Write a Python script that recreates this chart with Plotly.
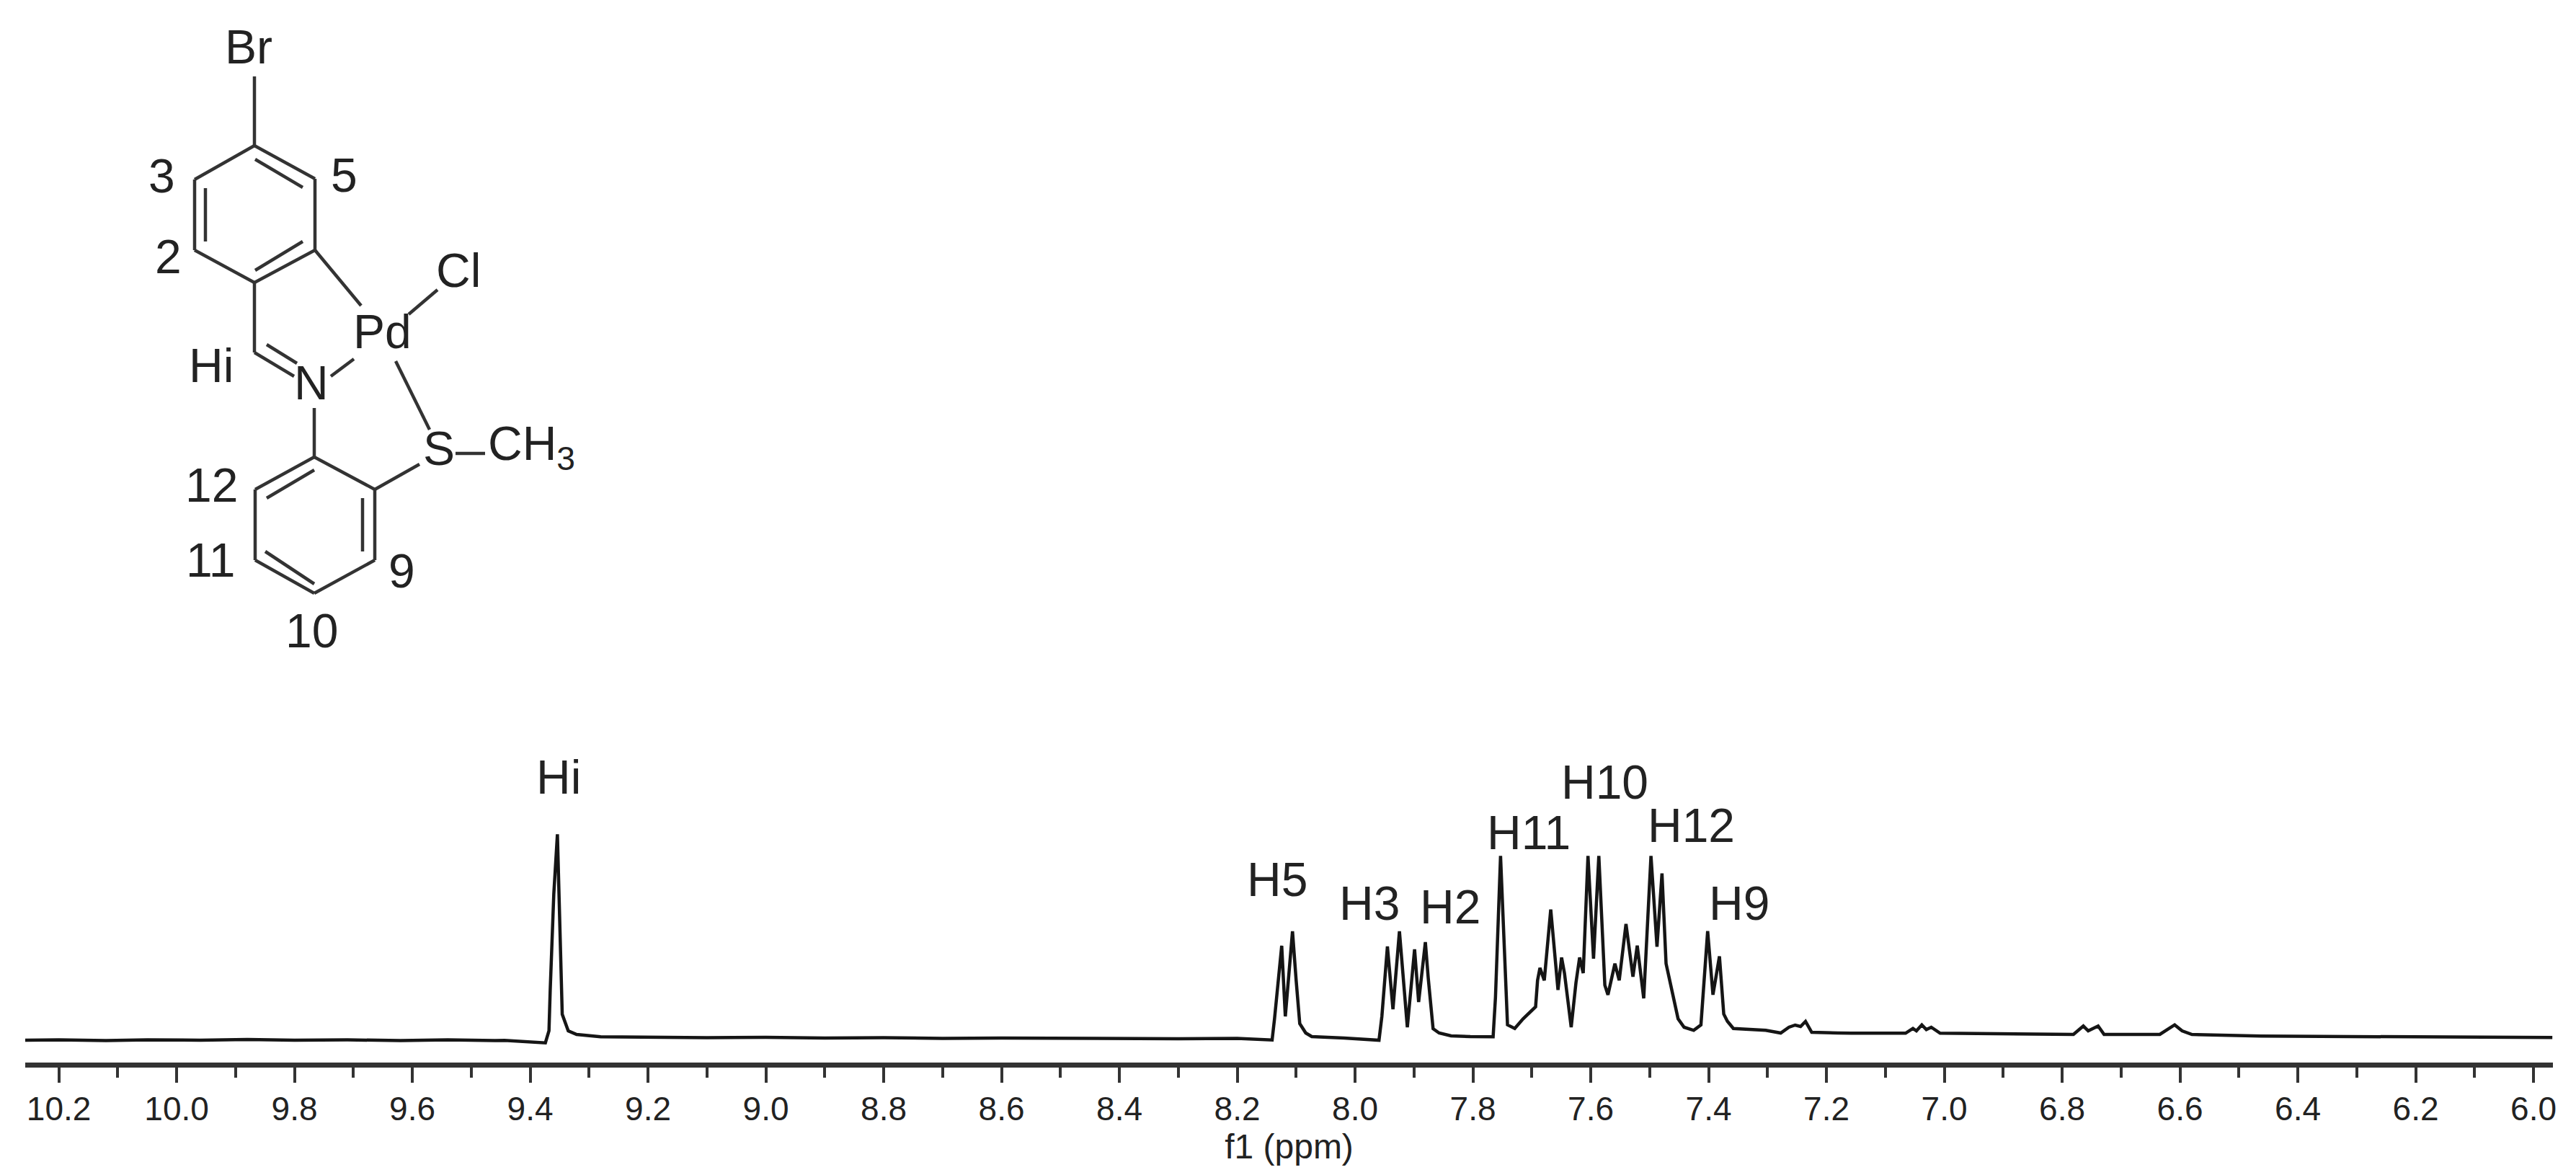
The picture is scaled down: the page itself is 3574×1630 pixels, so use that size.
"""
1H NMR spectrum of the Pd complex, with the structure drawn top left.
"""

import plotly.graph_objects as go

# Spectrum: chemical shift and height above baseline
ppm = [
    10.257, 10.20, 10.12, 10.05, 9.96, 9.88, 9.80, 9.71, 9.62, 9.54, 9.46, 9.4435,
    9.3742, 9.3681, 9.366, 9.3599, 9.3538, 9.3489, 9.3456, 9.3354, 9.3212, 9.2804,
    9.20, 9.10, 9.00, 8.90, 8.80, 8.70, 8.60, 8.50, 8.40, 8.30, 8.20, 8.1408,
    8.1367, 8.1245, 8.1184, 8.1062, 8.1000, 8.0939, 8.0837, 8.0735, 8.0185, 7.9594,
    7.9545, 7.9451, 7.9357, 7.9247, 7.9113, 7.8990, 7.8921, 7.8807, 7.8758, 7.8676,
    7.8574, 7.8370, 7.8044, 7.7657, 7.7617, 7.7531, 7.7466, 7.7413, 7.7290, 7.7148,
    7.6936, 7.6903, 7.6862, 7.6789, 7.6679, 7.6556, 7.6495, 7.6446, 7.6332, 7.6251,
    7.6189, 7.6128, 7.6047, 7.5953, 7.5863, 7.5761, 7.5708, 7.5590, 7.5517, 7.5402,
    7.5284, 7.5211, 7.5101, 7.5035, 7.4978, 7.4876, 7.4791, 7.4722, 7.4620, 7.4518,
    7.4416, 7.4253, 7.4130, 7.4069, 7.4016, 7.3926, 7.3816, 7.3743, 7.3681, 7.3580,
    7.3030, 7.2776, 7.2636, 7.2531, 7.2439, 7.2355, 7.2250, 7.1807, 7.1579, 7.0657,
    7.0532, 7.0473, 7.0381, 7.0305, 7.0221, 7.0071, 6.90, 6.7808, 6.7640, 6.7557,
    6.7389, 6.7288, 6.6342, 6.6216, 6.6090, 6.5964, 6.5797, 6.4624, 6.30, 6.1523,
    6.05, 5.968,
]
intensity = [
    -2, -1.5, -2.5, -1.5, -2, -1, -2, -1.5, -2.5, -1.5, -2.5, -2.3,
    -5.7, 11, 67.7, 201, 283.7, 134, 34, 11, 6, 2.7,
    2, 1.5, 2, 1, 1.5, 0.5, 1, 0.5, 1, 0, 0.5, -1.7,
    27.7, 129, 31, 149, 81, 21, 8, 3, 1, -2,
    31, 128, 41, 149, 16, 124, 51, 134, 84, 14,
    8, 4, 3, 2.7, 57.7, 253.7, 124.3, 19.3, 14.3, 27.7,
    44.3, 81, 98.3, 81, 179.3, 67.7, 112.7, 91, 16, 77.7,
    112.7, 91, 253.7, 111, 253.7, 74.3, 61, 104.3, 81, 159.3,
    86, 129.3, 56, 174.3, 253.7, 127.7, 229.3, 104.3, 67.7, 27.7,
    16, 11.7, 19.3, 91, 149.3, 61, 114.3, 34.3, 24.3, 14.3,
    11.7, 8, 16, 19, 17, 24, 9, 8, 7.7, 7.7,
    14.3, 11, 19.3, 12.7, 16, 7.7, 7, 6, 17.7, 11,
    17.7, 6, 6, 12.7, 19.3, 11, 6, 3.7, 3.2, 2.7,
    2.5, 1.7,
]

# Peak assignments
peak_labels = ["Hi", "H5", "H3", "H2", "H11", "H10", "H12", "H9"]
peak_ppm = [9.352, 8.132, 7.976, 7.839, 7.705, 7.576, 7.430, 7.348]
peak_height = [363, 221, 188, 183, 286, 356, 296, 188]

# Tick labels on the shift axis
tick_ppm = [10.2, 10.0, 9.8, 9.6, 9.4, 9.2, 9.0, 8.8, 8.6, 8.4, 8.2,
            8.0, 7.8, 7.6, 7.4, 7.2, 7.0, 6.8, 6.6, 6.4, 6.2, 6.0]
tick_text = [f"{t:.1f}" for t in tick_ppm]

# Structure: bonds and atom labels, in page pixels
bonds = [
    (353, 106, 353, 202), (353, 202, 437, 248), (437, 248, 437, 347),
    (437, 347, 353, 392), (353, 392, 270, 347), (270, 347, 270, 249),
    (270, 249, 353, 202), (354, 221, 420, 260), (285, 261, 285, 335),
    (354, 375, 420, 335), (437, 347, 501, 424), (353, 392, 353, 489),
    (353, 489, 408, 522), (370, 478, 412, 504), (459, 522, 491, 498),
    (567, 436, 607, 402), (549, 501, 596, 596), (436, 566, 436, 634),
    (436, 634, 520, 679), (520, 679, 520, 777), (520, 777, 436, 823),
    (436, 823, 354, 777), (354, 777, 354, 679), (354, 679, 436, 634),
    (370, 691, 436, 652), (503, 691, 503, 765), (368, 765, 436, 810),
    (520, 679, 582, 644), (632, 629, 673, 629),
]
atom_labels = [
    ("Br", 345, 65), ("3", 224, 244), ("5", 477, 243), ("2", 233, 356),
    ("Cl", 636, 375), ("Pd", 530, 460), ("Hi", 293, 507), ("N", 432, 531),
    ("S", 609, 622), ("CH<sub>3</sub>", 737, 620), ("12", 293, 673),
    ("11", 292, 777), ("9", 557, 792), ("10", 432, 875),
]

# The page body has an 8 px margin, so the figure starts at (8, 8)
BODY = 8
WIDTH, HEIGHT = 3574 - 2 * BODY, 1630 - 2 * BODY
LEFT, RIGHT, AXIS_Y = 35 - BODY, 3542 - BODY, 1474 - BODY
FONT = "Liberation Sans"


def page_x(x):
    return (x - BODY - LEFT) / (RIGHT - LEFT)


def page_y(y):
    return (AXIS_Y - (y - BODY)) / AXIS_Y


fig = go.Figure()

fig.add_trace(
    go.Scatter(
        x=ppm,
        y=intensity,
        mode="lines",
        line=dict(color="#151515", width=4.5),
        showlegend=False,
    )
)

for label, x, y in zip(peak_labels, peak_ppm, peak_height):
    fig.add_annotation(
        text=label, x=x, y=y, xref="x", yref="y", showarrow=False,
        font=dict(family=FONT, size=66, color="#222222"),
    )

for x0, y0, x1, y1 in bonds:
    fig.add_shape(
        type="line", xref="paper", yref="paper",
        x0=page_x(x0), y0=page_y(y0), x1=page_x(x1), y1=page_y(y1),
        line=dict(color="#333333", width=4.5),
    )

for label, x, y in atom_labels:
    fig.add_annotation(
        text=label, x=page_x(x), y=page_y(y), xref="paper", yref="paper",
        xanchor="center", yanchor="middle", showarrow=False,
        font=dict(family=FONT, size=66, color="#222222"),
    )

fig.update_layout(
    width=WIDTH,
    height=HEIGHT,
    margin=dict(l=LEFT, r=WIDTH - RIGHT, t=0, b=HEIGHT - AXIS_Y, autoexpand=False),
    paper_bgcolor="white",
    plot_bgcolor="white",
    showlegend=False,
    xaxis=dict(
        range=[10.257, 5.967],
        tickvals=tick_ppm,
        ticktext=tick_text,
        ticks="outside",
        ticklen=21,
        tickwidth=4,
        tickcolor="#333333",
        ticklabelstandoff=-3,
        tickfont=dict(family=FONT, size=46, color="#222222"),
        showline=True,
        linecolor="#333333",
        linewidth=7,
        showgrid=False,
        zeroline=False,
        minor=dict(dtick=0.1, tick0=6.1, ticks="outside", ticklen=14, tickwidth=3.5,
                   tickcolor="#333333", showgrid=False),
        title=dict(text="f1 (ppm)", standoff=2,
                   font=dict(family=FONT, size=48, color="#222222")),
    ),
    yaxis=dict(range=[-33, 1433], visible=False),
)

fig.write_html("out.html")
